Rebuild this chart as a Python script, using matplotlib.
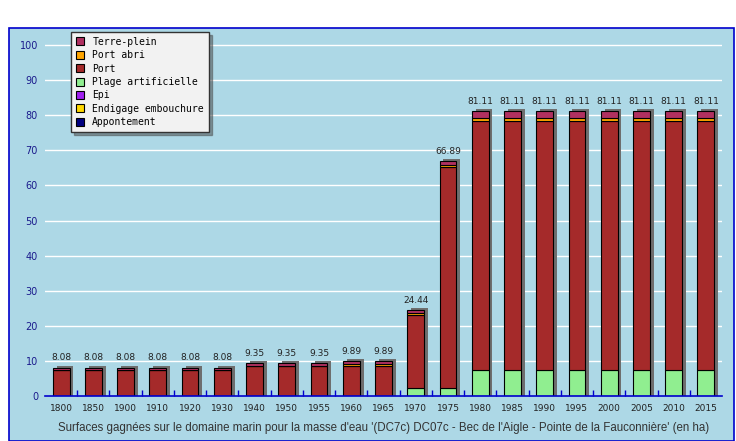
import matplotlib.pyplot as plt
import matplotlib.patches as mpatches
import numpy as np

annees = ["1800", "1850", "1900", "1910", "1920", "1930", "1940", "1950", "1955", "1960",
          "1965", "1970", "1975", "1980", "1985", "1990", "1995", "2000", "2005", "2010", "2015"]
totaux = [8.08, 8.08, 8.08, 8.08, 8.08, 8.08, 9.35, 9.35, 9.35, 9.89,
          9.89, 24.44, 66.89, 81.11, 81.11, 81.11, 81.11, 81.11, 81.11, 81.11, 81.11]

# couches, du bas vers le haut
appontement = [0] * 21
endigage = [0] * 21
epi = [0] * 21
plage = [0, 0, 0, 0, 0, 0, 0, 0, 0, 0, 0, 2.3, 2.3, 7.4, 7.4, 7.4, 7.4, 7.4, 7.4, 7.4, 7.4]
port_abri = [0, 0, 0, 0, 0, 0, 0, 0, 0, 0.54, 0.54, 0.54, 0.54, 0.8, 0.8, 0.8, 0.8, 0.8, 0.8, 0.8, 0.8]
terre_plein = [0.8, 0.8, 0.8, 0.8, 0.8, 0.8, 0.8, 0.8, 0.8, 0.8, 0.8, 0.8, 1.2, 2.0, 2.0, 2.0, 2.0, 2.0, 2.0, 2.0, 2.0]
port = [t - a - b - c - d - e - f for t, a, b, c, d, e, f in
        zip(totaux, appontement, endigage, epi, plage, port_abri, terre_plein)]

series = [
    ("Appontement", appontement, "#000080"),
    ("Endigage embouchure", endigage, "#FFD700"),
    ("Epi", epi, "#A020F0"),
    ("Plage artificielle", plage, "#90EE90"),
    ("Port", port, "#A52A2A"),
    ("Port abri", port_abri, "#FFA500"),
    ("Terre-plein", terre_plein, "#B03060"),
]

bleu_clair = "#ADD8E6"
fig = plt.figure(figsize=(7.36, 4.41), dpi=100)
fig.patch.set_facecolor("white")
fond = mpatches.Rectangle((9 / 736, 0), 725 / 736, 1 - 28 / 441,
                          transform=fig.transFigure, facecolor=bleu_clair,
                          edgecolor="#0000CC", linewidth=1.2, zorder=-10)
fig.patches.append(fond)

ax = fig.add_axes([45 / 736, 45 / 441, 677 / 736, 365 / 441])
ax.set_facecolor(bleu_clair)
x = np.arange(len(annees))
largeur = 0.52

# ombre
ax.bar(x + 0.12, np.array(totaux) + 0.6, largeur, color="#6E6E6E", zorder=2)

bas = np.zeros(len(annees))
for nom, vals, couleur in series:
    vals = np.array(vals)
    ax.bar(x, vals, largeur, bottom=bas, color=couleur, edgecolor="black",
           linewidth=0.8, zorder=3)
    bas += vals

for xi, t in zip(x, totaux):
    ax.text(xi, t + 1.6, f"{t:.2f}", ha="center", va="bottom", fontsize=6.5, color="#222222")

ax.set_xlim(-0.5, len(annees) - 0.5)
ax.set_ylim(0, 104)
ax.set_yticks(range(0, 101, 10))
ax.set_yticklabels([str(v) for v in range(0, 101, 10)], fontsize=7, color="#1a1a8c")
ax.tick_params(axis="y", length=0, pad=5)
ax.set_xticks(x)
ax.set_xticklabels(annees, fontsize=6.5, color="#222222")
ax.tick_params(axis="x", length=0, pad=6)
ax.set_xticks(x[:-1] + 0.5, minor=True)
ax.tick_params(axis="x", which="minor", direction="in", length=4, color="#0000CC", width=1)
ax.grid(axis="y", color="white", linewidth=1, zorder=1)
ax.set_axisbelow(True)
for s in ["top", "right", "left"]:
    ax.spines[s].set_visible(False)
ax.spines["bottom"].set_color("#0000CC")
ax.spines["bottom"].set_linewidth(1.2)
ax.spines["bottom"].set_zorder(5)

ax.set_xlabel("Surfaces gagnées sur le domaine marin pour la masse d'eau '(DC7c) DC07c - Bec de "
              "l'Aigle - Pointe de la Fauconnière' (en ha)", fontsize=8.3, family="Liberation Sans",
              color="#333333", labelpad=6)

poignees = [mpatches.Patch(facecolor=c, edgecolor="black", linewidth=0.8, label=n)
            for n, v, c in reversed(series)]
leg = ax.legend(handles=poignees, loc="upper left", bbox_to_anchor=(66 / 736, 1 - 27 / 441),
                bbox_transform=fig.transFigure, prop={"family": "DejaVu Sans Mono", "size": 7},
                handlelength=0.9, handleheight=0.9, handletextpad=0.8, labelspacing=0.35,
                fancybox=False, shadow=True, framealpha=1, borderpad=0.5)
leg.get_frame().set_facecolor("#F2F2F2")
leg.get_frame().set_edgecolor("#333333")
leg.set_zorder(10)

fig.savefig("out.png", dpi=100, facecolor=fig.get_facecolor())
